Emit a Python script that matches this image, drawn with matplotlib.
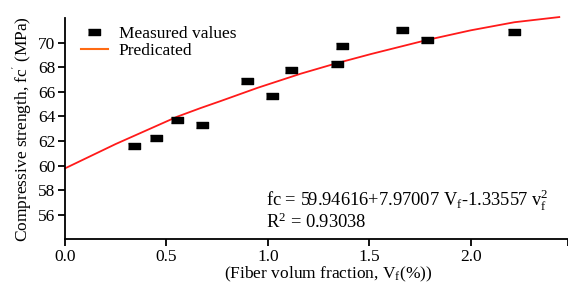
import matplotlib
matplotlib.use("Agg")
import matplotlib.pyplot as plt
from matplotlib.lines import Line2D

plt.rcParams['font.family'] = ['Liberation Serif', 'DejaVu Serif']
plt.rcParams['mathtext.fontset'] = 'custom'
plt.rcParams['mathtext.rm'] = 'Liberation Serif'
plt.rcParams['mathtext.it'] = 'Liberation Serif:italic'

# measured points
vf_meas = [0.338, 0.449, 0.553, 0.678, 0.896, 1.020, 1.112, 1.340, 1.365, 1.663, 1.786, 2.216]
fc_meas = [61.59, 62.25, 63.71, 63.30, 66.88, 65.66, 67.80, 68.29, 69.73, 71.03, 70.19, 70.87]

# predicted curve
vf_pred = [0.0, 0.25, 0.553, 0.668, 0.767, 0.95, 1.163, 1.34, 1.51, 1.786, 2.0, 2.216, 2.437]
fc_pred = [59.78, 61.76, 63.98, 64.68, 65.25, 66.33, 67.48, 68.33, 69.08, 70.22, 71.00, 71.66, 72.08]

xticks = [0.0, 0.5, 1.0, 1.5, 2.0, 2.48]
xticklabels = ['0.0', '0.5', '1.0', '1.5', '2.0', '']
yticks = [56, 58, 60, 62, 64, 66, 68, 70]

fig = plt.figure(figsize=(5.68, 2.91), dpi=100)
ax = fig.add_axes([0.1144, 0.177, 0.8856, 0.761])

ax.plot(vf_pred, fc_pred, color='#ff1a1a', lw=1.3, clip_on=False)
rect = [(-1, -0.55), (1, -0.55), (1, 0.55), (-1, 0.55)]
ax.plot(vf_meas, fc_meas, ls='none', marker=rect, ms=8, color='black')

ax.set_xlim(0, 2.48)
ax.set_ylim(54, 72)
ax.set_xticks(xticks)
ax.set_xticklabels(xticklabels)
ax.set_yticks(yticks)
ax.spines['top'].set_visible(False)
ax.spines['right'].set_visible(False)
ax.spines['left'].set_linewidth(1.3)
ax.spines['bottom'].set_linewidth(1.3)
ax.tick_params(direction='out', length=5, width=1.3, labelsize=12.5, pad=2)

ax.set_ylabel("Compressive strength, fc$^{'}$ (MPa)", fontsize=12.5, labelpad=2)
ax.set_xlabel("(Fiber volum fraction, V$_{\\mathrm{f}}$(%))", fontsize=12.5, labelpad=0)
ax.xaxis.set_label_coords(0.524, -0.115)

handles = [Line2D([], [], ls='none', marker=rect, ms=8, color='black'),
           Line2D([], [], color='#ff6a13', lw=1.5)]
ax.legend(handles, ['Measured values', 'Predicated'], loc='upper left',
          bbox_to_anchor=(0.0, 1.035), frameon=False, fontsize=12.5,
          handlelength=1.6, handletextpad=0.6, labelspacing=0.05)

ax.text(0.40, 0.178,
        "fc = 59.94616+7.97007 V$_{\\mathrm{f}}$-1.33557 v$_{\\mathrm{f}}^{2}$",
        transform=ax.transAxes, fontsize=13.3, va='center')
ax.text(0.40, 0.079, "R$^{2}$ = 0.93038", transform=ax.transAxes,
        fontsize=13.3, va='center')

fig.savefig("out.png", dpi=100)
